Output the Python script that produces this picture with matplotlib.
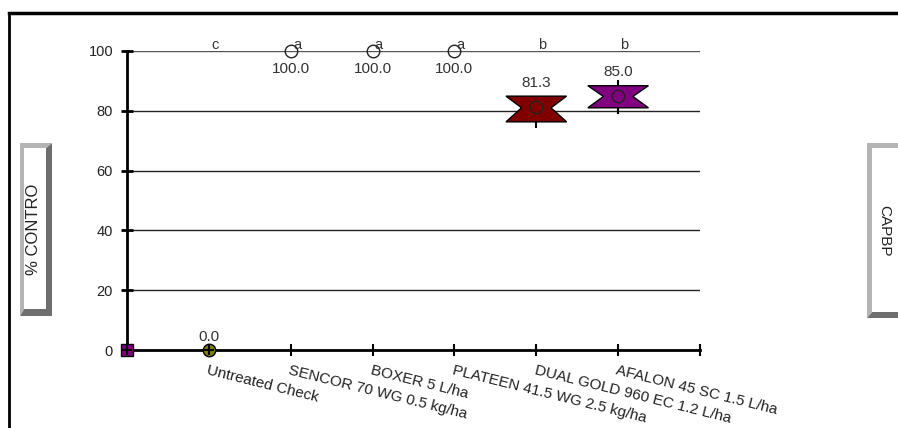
import matplotlib
matplotlib.use("Agg")
import matplotlib.pyplot as plt
from matplotlib.patches import Polygon, Rectangle
from matplotlib.lines import Line2D

plt.rcParams['font.family'] = ['Liberation Sans', 'DejaVu Sans']

# ---- data ----
categories = ["Untreated Check", "SENCOR 70 WG 0.5 kg/ha", "BOXER 5 L/ha",
              "PLATEEN 41.5 WG 2.5 kg/ha", "DUAL GOLD 960 EC 1.2 L/ha",
              "AFALON 45 SC 1.5 L/ha"]
means = [0.0, 100.0, 100.0, 100.0, 81.3, 85.0]
letters = ["c", "a", "a", "a", "b", "b"]
# box stats for treatments with spread: index, whisker low, q1, median, q3, whisker high
box_idx = [4, 5]
box_wlo = [74.5, 79.4]
box_q1 = [76.3, 81.0]
box_med = [81.0, 84.8]
box_q3 = [84.9, 88.4]
box_whi = [84.9, 89.9]
box_colors = ["#800000", "#800080"]
yticks = [0, 20, 40, 60, 80, 100]

W, H = 898, 428
fig = plt.figure(figsize=(W / 100, H / 100), dpi=100)
fig.patch.set_facecolor("white")

def fx(px):
    return px / W

def fy(py):
    return 1 - py / H

ax = fig.add_axes([fx(127), fy(350), fx(700) - fx(127), fy(51) - fy(350)])
ax.set_xlim(0, 7)
ax.set_ylim(0, 100)
for s in ["top", "right"]:
    ax.spines[s].set_visible(False)
for s in ["left", "bottom"]:
    ax.spines[s].set_linewidth(2)
    ax.spines[s].set_color("black")
ax.patch.set_alpha(0)

# gridlines
for yv in yticks[1:]:
    ax.plot([0, 7], [yv, yv], color="#222222" if yv < 100 else "#555555", lw=1, zorder=1)

ax.set_yticks(yticks)
ax.set_yticklabels([str(v) for v in yticks], fontsize=10.5, color="#222222")
ax.tick_params(axis="y", direction="inout", length=8, width=2, pad=6)

positions = list(range(1, len(categories) + 1))
ax.set_xticks(positions + [7])
ax.set_xticklabels(categories + [""], rotation=-14, ha="left", va="top",
                   rotation_mode="anchor", fontsize=11, color="#222222")
ax.tick_params(axis="x", direction="inout", length=9, width=1.5, pad=5)

# boxes (bowtie / notched shapes)
hw, nw = 0.37, 0.18
for i, lo, q1, md, q3, hi, c in zip(box_idx, box_wlo, box_q1, box_med, box_q3, box_whi, box_colors):
    x = positions[i]
    ax.plot([x, x], [lo, q1], color="black", lw=1.5, zorder=2)
    ax.plot([x, x], [q3, hi], color="black", lw=1.5, zorder=2)
    poly = Polygon([(x - hw, q3), (x + hw, q3), (x + nw, md), (x + hw, q1),
                    (x - hw, q1), (x - nw, md)], closed=True,
                   facecolor=c, edgecolor="black", lw=1, zorder=3)
    ax.add_patch(poly)

# mean points
for i, (x, m) in enumerate(zip(positions, means)):
    if i == 0:
        ax.plot(x, m, marker="o", ms=9, mfc="#808000", mec="black", mew=1,
                zorder=6, clip_on=False)
        ax.plot(x, m, marker="+", ms=7, mec="black", mew=1.5, zorder=7, clip_on=False)
    else:
        ax.plot(x, m, marker="o", ms=9, mfc="none", mec="#222222", mew=1,
                zorder=6, clip_on=False)

# purple square at origin
ax.plot(0, 0, marker="s", ms=9, mfc="#800080", mec="black", mew=1, zorder=6, clip_on=False)
ax.plot(0, 0, marker="+", ms=7, mec="black", mew=1.5, zorder=7, clip_on=False)

# value labels
for i, (x, m) in enumerate(zip(positions, means)):
    if m >= 100:
        off = -13
    elif m <= 0:
        off = 9.5
    else:
        off = 17
    ax.annotate(f"{m:.1f}", (x, m), xytext=(0, off), textcoords="offset points",
                ha="center", va="center", fontsize=11, color="#333333", zorder=8)

# letters
for x, l in zip(positions, letters):
    ax.annotate(l, (x, 100), xytext=(4.5, 4.5), textcoords="offset points",
                ha="center", va="center", fontsize=10.5, color="#333333", zorder=8)

# border lines
fig.add_artist(Line2D([fx(9), 1], [fy(13), fy(13)], color="black", lw=2.5,
                      transform=fig.transFigure))
fig.add_artist(Line2D([fx(9), fx(9)], [fy(13), 0], color="black", lw=2,
                      transform=fig.transFigure))

def bevel_box(x0, y0, x1, y1, l, t, r, b, text, rot, tx, fs):
    light = "#b4b4b4"
    dark = "#6e6e6e"
    fig.add_artist(Polygon([(fx(x1), fy(y0)), (fx(x1), fy(y1)), (fx(x0), fy(y1)),
                            (fx(x0 + l), fy(y1 - b)), (fx(x1 - r), fy(y1 - b)),
                            (fx(x1 - r), fy(y0 + t))], closed=True,
                           facecolor=dark, edgecolor="none", transform=fig.transFigure))
    fig.add_artist(Polygon([(fx(x0), fy(y1)), (fx(x0), fy(y0)), (fx(x1), fy(y0)),
                            (fx(x1 - r), fy(y0 + t)), (fx(x0 + l), fy(y0 + t)),
                            (fx(x0 + l), fy(y1 - b))], closed=True,
                           facecolor=light, edgecolor="none", transform=fig.transFigure))
    fig.add_artist(Rectangle((fx(x0 + l), fy(y1 - b)), fx(x1 - r) - fx(x0 + l),
                             fy(y0 + t) - fy(y1 - b), facecolor="white",
                             edgecolor="none", transform=fig.transFigure))
    fig.text(fx(tx), fy((y0 + y1) / 2), text, rotation=rot, ha="center", va="center",
             fontsize=fs, color="#222222")

bevel_box(20, 143, 52, 316, 4, 5, 6, 7, "% CONTRO", 90, 34, 12)
bevel_box(867, 143, 904, 318, 5, 5, 6, 6, "CAPBP", -90, 884, 11)

fig.savefig("out.png", dpi=100, facecolor="white")
